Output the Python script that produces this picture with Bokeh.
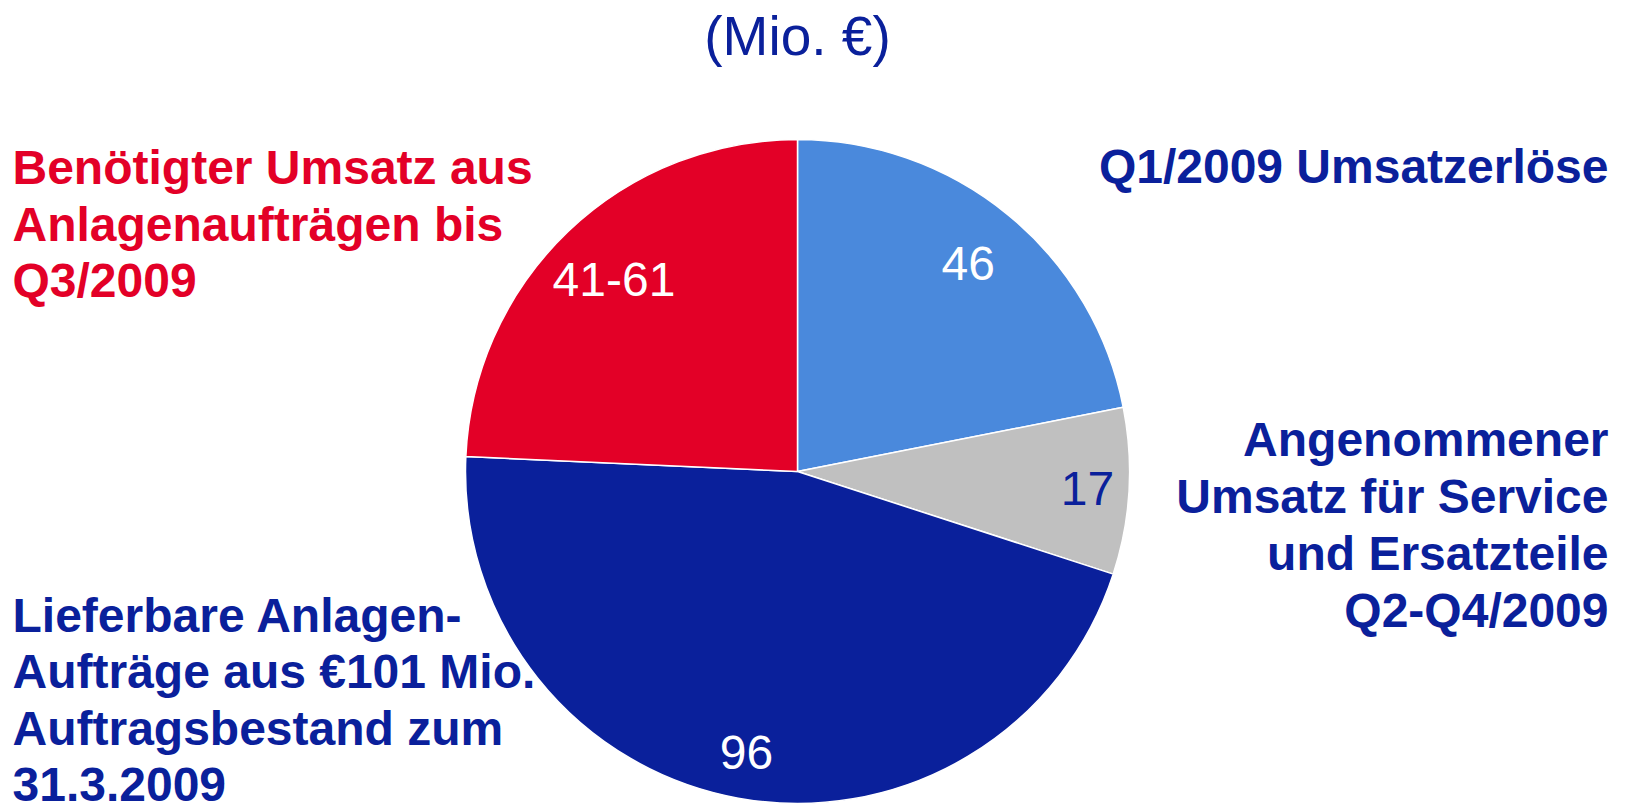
import math
from bokeh.plotting import figure
from bokeh.models import Range1d, ColumnDataSource
from bokeh.core.properties import value
from bokeh.embed import file_html
from bokeh.resources import INLINE

# ---- data ----
categories = ["Q1/2009 Umsatzerlöse",
              "Angenommener Umsatz für Service und Ersatzteile Q2-Q4/2009",
              "Lieferbare Anlagen-Aufträge aus €101 Mio. Auftragsbestand zum 31.3.2009",
              "Benötigter Umsatz aus Anlagenaufträgen bis Q3/2009"]
values = [46, 17, 96, 51]            # 41-61 drawn at its midpoint
value_labels = ["46", "17", "96", "41-61"]
slice_colors = ["#4A89DC", "#C0C0C0", "#0A209B", "#E30027"]
value_label_colors = ["white", "#0A209B", "white", "white"]

title_text = "(Mio. €)"
label_q1 = ["Q1/2009 Umsatzerlöse"]
label_service = ["Angenommener", "Umsatz für Service", "und Ersatzteile", "Q2-Q4/2009"]
label_orders = ["Lieferbare Anlagen-", "Aufträge aus €101 Mio.", "Auftragsbestand zum", "31.3.2009"]
label_needed = ["Benötigter Umsatz aus", "Anlagenaufträgen bis", "Q3/2009"]

RED = "#E30027"
NAVY = "#0A209B"
FONT = "Liberation Sans"

W, H = 1629, 811

def Y(page_y):
    return H - page_y

p = figure(width=W, height=H, output_backend="svg", toolbar_location=None,
           x_range=Range1d(0, W), y_range=Range1d(0, H),
           min_border=0, x_axis_location=None, y_axis_location=None)
p.outline_line_color = None
p.grid.visible = False
p.background_fill_color = "white"
p.border_fill_color = "white"

# ---- pie ----
cx, cy, r = 797, Y(471), 332
total = sum(values)
starts, ends, mids = [], [], []
acc = 0.0
for v in values:
    a0 = math.pi / 2 - 2 * math.pi * acc / total
    acc += v
    a1 = math.pi / 2 - 2 * math.pi * acc / total
    starts.append(a0)
    ends.append(a1)
    mids.append((a0 + a1) / 2)

src = ColumnDataSource(dict(start=starts, end=ends, color=slice_colors))
p.wedge(x=cx, y=cy, radius=r, start_angle="start", end_angle="end", direction="clock",
        fill_color="color", line_color="white", line_width=1.5, source=src)

label_r = [0.81, 0.875, 0.86, 0.80]
lx = [cx + r * f * math.cos(m) for f, m in zip(label_r, mids)]
ly = [cy + r * f * math.sin(m) for f, m in zip(label_r, mids)]
lsrc = ColumnDataSource(dict(x=lx, y=ly, t=value_labels, c=value_label_colors))
p.text(x="x", y="y", text="t", text_color="c", source=lsrc,
       text_font=value(FONT), text_font_size="48px",
       text_align="center", text_baseline="middle")

# ---- title ----
p.text(x=[797], y=[Y(35)], text=[title_text], text_color=NAVY,
       text_font=value(FONT), text_font_size="55px",
       text_align="center", text_baseline="middle")

# ---- category labels ----
def block(lines, x, first_center, step, align, color):
    ys = [Y(first_center + i * step) for i in range(len(lines))]
    p.text(x=[x] * len(lines), y=ys, text=lines, text_color=color,
           text_font=value(FONT), text_font_size="48px", text_font_style="bold",
           text_align=align, text_baseline="middle")

block(label_needed, 12, 167, 56.5, "left", RED)
block(label_q1, 1608, 166, 56.5, "right", NAVY)
block(label_service, 1608, 439, 57, "right", NAVY)
block(label_orders, 12, 615, 56.3, "left", NAVY)

open("out.html", "w").write(file_html(p, INLINE))
